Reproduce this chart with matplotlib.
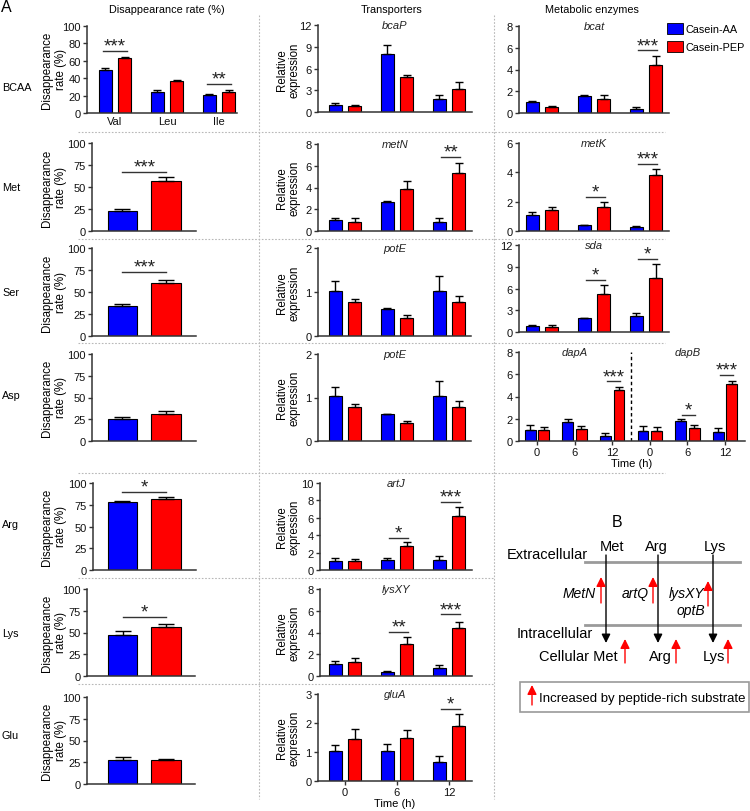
import numpy as np
import matplotlib
matplotlib.use("Agg")
import matplotlib.pyplot as plt
from matplotlib.patches import Rectangle

plt.rcParams['font.family'] = ['Liberation Sans', 'DejaVu Sans']

# ---------------- data ----------------
series_names = ["Casein-AA", "Casein-PEP"]
time_labels = ["0", "6", "12"]

# Disappearance rate (%) - BCAA
bcaa_names = ["Val", "Leu", "Ile"]
bcaa_aa = [49.6, 24.0, 20.8]
bcaa_aa_err = [2.0, 2.3, 1.5]
bcaa_pep = [63.0, 37.0, 24.4]
bcaa_pep_err = [1.0, 0.8, 1.6]
bcaa_sig = [("***", 0, 71), ("**", 2, 33)]

# Disappearance rate (%) - single amino acids
single_names = ["Met", "Ser", "Asp", "Arg", "Lys", "Glu"]
single_aa = [23.0, 34.4, 25.6, 77.8, 47.1, 28.0]
single_aa_err = [2.0, 1.6, 2.4, 1.9, 4.9, 3.6]
single_pep = [57.0, 60.5, 30.5, 81.6, 56.7, 27.5]
single_pep_err = [4.0, 3.5, 3.9, 1.9, 3.1, 1.5]
single_sig = ["***", "***", "", "*", "*", ""]
single_sig_y = [67, 73, 0, 90, 67.5, 0]

# Relative expression (0, 6, 12 h)
bcaP_aa = [0.97, 7.95, 1.75]; bcaP_aa_err = [0.27, 1.35, 0.55]
bcaP_pep = [0.83, 4.87, 3.20]; bcaP_pep_err = [0.17, 0.28, 0.98]
bcaP_sig = []

metN_aa = [1.00, 2.63, 0.86]; metN_aa_err = [0.20, 0.12, 0.30]
metN_pep = [0.86, 3.88, 5.35]; metN_pep_err = [0.30, 0.71, 0.92]
metN_sig = [("**", 2, 6.79)]

potE_aa = [1.03, 0.61, 1.03]; potE_aa_err = [0.21, 0.02, 0.34]
potE_pep = [0.78, 0.41, 0.78]; potE_pep_err = [0.06, 0.06, 0.14]
potE_sig = []

artJ_aa = [1.00, 1.19, 1.19]; artJ_aa_err = [0.38, 0.23, 0.38]
artJ_pep = [1.07, 2.72, 6.17]; artJ_pep_err = [0.19, 0.50, 1.03]
artJ_sig = [("*", 1, 3.64), ("***", 2, 7.78)]

lysXY_aa = [1.08, 0.40, 0.71]; lysXY_aa_err = [0.30, 0.09, 0.27]
lysXY_pep = [1.32, 2.92, 4.40]; lysXY_pep_err = [0.37, 0.71, 0.58]
lysXY_sig = [("**", 1, 4.06), ("***", 2, 5.66)]

gluA_aa = [1.04, 1.04, 0.67]; gluA_aa_err = [0.19, 0.23, 0.20]
gluA_pep = [1.44, 1.50, 1.88]; gluA_pep_err = [0.35, 0.25, 0.43]
gluA_sig = [("*", 2, 2.50)]

bcat_aa = [0.98, 1.60, 0.40]; bcat_aa_err = [0.16, 0.09, 0.15]
bcat_pep = [0.55, 1.29, 4.43]; bcat_pep_err = [0.10, 0.34, 0.77]
bcat_sig = [("***", 2, 5.75)]

metK_aa = [1.11, 0.39, 0.28]; metK_aa_err = [0.16, 0.05, 0.07]
metK_pep = [1.43, 1.62, 3.85]; metK_pep_err = [0.19, 0.38, 0.35]
metK_sig = [("*", 1, 2.35), ("***", 2, 4.55)]

sda_aa = [0.78, 1.92, 2.15]; sda_aa_err = [0.14, 0.08, 0.51]
sda_pep = [0.69, 5.22, 7.42]; sda_pep_err = [0.23, 1.28, 1.93]
sda_sig = [("*", 1, 7.24), ("*", 2, 10.1)]

dapA_aa = [1.00, 1.75, 0.45]; dapA_aa_err = [0.45, 0.21, 0.25]
dapA_pep = [1.00, 1.12, 4.60]; dapA_pep_err = [0.30, 0.27, 0.23]
dapA_sig = [("***", 2, 5.35)]

dapB_aa = [0.94, 1.81, 0.82]; dapB_aa_err = [0.39, 0.15, 0.36]
dapB_pep = [0.94, 1.18, 5.14]; dapB_pep_err = [0.33, 0.30, 0.24]
dapB_sig = [("*", 1, 2.33), ("***", 2, 5.90)]

# ---------------- style ----------------
BLUE = '#0000FF'
RED = '#FF0000'
SPINE = '#333333'
W, H = 750, 812
fig = plt.figure(figsize=(W / 100, H / 100), dpi=100)


def px_axes(x0, y0, x1, y1):
    return fig.add_axes([x0 / W, 1 - y1 / H, (x1 - x0) / W, (y1 - y0) / H])


def style(ax, ymax, ystep):
    for s in ['top', 'right']:
        ax.spines[s].set_visible(False)
    for s in ['left', 'bottom']:
        ax.spines[s].set_color(SPINE)
        ax.spines[s].set_linewidth(1.1)
    ax.set_ylim(0, ymax)
    ax.set_yticks(np.arange(0, ymax + 1e-9, ystep))
    ax.yaxis.set_major_formatter(matplotlib.ticker.FormatStrFormatter('%g'))
    ax.tick_params(axis='y', length=3, width=1, color=SPINE, labelsize=8, pad=1.5,
                   labelcolor='#111111')
    ax.tick_params(axis='x', length=0, labelsize=8, pad=2, labelcolor='#111111')
    ax.set_xticks([])
    ax.set_facecolor('none')


def draw_bars(ax, x, vals, errs, color, width, cap):
    ax.bar(x, vals, width, color=color, edgecolor='black', linewidth=0.8,
           yerr=[np.zeros(len(vals)), errs], capsize=cap,
           error_kw=dict(elinewidth=1.0, capthick=1.0, ecolor='black'), zorder=2)


def sig(ax, label, x0, x1, y):
    ax.plot([x0, x1], [y, y], color=SPINE, lw=1.0, zorder=3, clip_on=False)
    ax.annotate(label, ((x0 + x1) / 2, y), xytext=(0, 0.3), textcoords='offset points',
                ha='center', va='baseline', fontsize=13.5, color='#222222')


def xlim_from(x0, x1, c0, s):
    return ((x0 - c0) / s, (x1 - c0) / s)


# ---------------- left column ----------------
ax = px_axes(87, 27, 237, 114)
style(ax, 100, 20)
g = np.arange(len(bcaa_names))
off = 0.183
draw_bars(ax, g - off, bcaa_aa, bcaa_aa_err, BLUE, 0.25, 3)
draw_bars(ax, g + off, bcaa_pep, bcaa_pep_err, RED, 0.25, 3)
for lab, gi, yy in bcaa_sig:
    sig(ax, lab, gi - off - 0.05, gi + off + 0.05, yy)
ax.set_xlim(*xlim_from(87, 237, 115, 52))
ax.set_xticks(g)
ax.set_xticklabels(bcaa_names)

single_boxes = [(92, 144, 196, 232), (92, 249, 196, 337), (92, 355, 196, 442),
                (93, 484, 196, 571), (87, 590, 195, 677), (87, 698, 195, 785)]
left_axes = [ax]
for i, box in enumerate(single_boxes):
    a = px_axes(*box)
    style(a, 100, 25)
    draw_bars(a, [0], [single_aa[i]], [single_aa_err[i]], BLUE, 0.667, 5.5)
    draw_bars(a, [1], [single_pep[i]], [single_pep_err[i]], RED, 0.667, 5.5)
    if single_sig[i]:
        sig(a, single_sig[i], 0, 1, single_sig_y[i])
    a.set_xlim(*xlim_from(box[0], box[2], 122.5, 43.5))
    left_axes.append(a)


# ---------------- expression panels ----------------
def expr(box, c0, s, aa, aa_err, pep, pep_err, sigs, ymax, ystep, title=None, width=0.25, off=0.19, cap=3):
    a = px_axes(*box)
    style(a, ymax, ystep)
    n = len(aa)
    g = np.arange(n)
    draw_bars(a, g - off, aa, aa_err, BLUE, width, cap)
    draw_bars(a, g + off, pep, pep_err, RED, width, cap)
    for lab, gi, yy in sigs:
        sig(a, lab, gi - off + 0.04, gi + off + 0.03, yy)
    a.set_xlim(*xlim_from(box[0], box[2], c0, s))
    if title:
        a.text(0.5, 1.0, title, transform=a.transAxes, ha='center', va='center',
               fontsize=8, style='italic', color='#222222')
    return a


mid = [
    ((318, 26, 472, 113), bcaP_aa, bcaP_aa_err, bcaP_pep, bcaP_pep_err, bcaP_sig, 12, 3, 'bcaP'),
    ((318, 145, 472, 232), metN_aa, metN_aa_err, metN_pep, metN_pep_err, metN_sig, 8, 2, 'metN'),
    ((318, 249, 471, 337), potE_aa, potE_aa_err, potE_pep, potE_pep_err, potE_sig, 2, 1, 'potE'),
    ((318, 355, 471, 442), potE_aa, potE_aa_err, potE_pep, potE_pep_err, potE_sig, 2, 1, 'potE'),
    ((320, 484, 472, 571), artJ_aa, artJ_aa_err, artJ_pep, artJ_pep_err, artJ_sig, 10, 2, 'artJ'),
    ((320, 590, 472, 677), lysXY_aa, lysXY_aa_err, lysXY_pep, lysXY_pep_err, lysXY_sig, 8, 2, 'lysXY'),
    ((318, 695, 472, 782), gluA_aa, gluA_aa_err, gluA_pep, gluA_pep_err, gluA_sig, 3, 1, 'gluA'),
]
mid_axes = []
for box, a1, e1, a2, e2, sg, ym, st, t in mid:
    mid_axes.append(expr(box, 345, 52, a1, e1, a2, e2, sg, ym, st, t))
gl = mid_axes[-1]
gl.set_xticks(range(3))
gl.set_xticklabels(time_labels)
gl.tick_params(axis='x', length=3, width=1, color=SPINE, labelsize=8, pad=1.5)
gl.set_xlabel('Time (h)', fontsize=8, labelpad=0.5)

right = [
    ((519, 27, 669, 114), bcat_aa, bcat_aa_err, bcat_pep, bcat_pep_err, bcat_sig, 8, 2, 'bcat'),
    ((519, 144, 669, 232), metK_aa, metK_aa_err, metK_pep, metK_pep_err, metK_sig, 6, 2, 'metK'),
    ((519, 246, 669, 333), sda_aa, sda_aa_err, sda_pep, sda_pep_err, sda_sig, 12, 3, 'sda'),
]
for box, a1, e1, a2, e2, sg, ym, st, t in right:
    expr(box, 542, 52, a1, e1, a2, e2, sg, ym, st, t)

# dapA / dapB combined panel
dap_aa = dapA_aa + dapB_aa
dap_aa_err = dapA_aa_err + dapB_aa_err
dap_pep = dapA_pep + dapB_pep
dap_pep_err = dapA_pep_err + dapB_pep_err
dap_sig = dapA_sig + [(l, gi + 3, y) for l, gi, y in dapB_sig]
da = expr((519, 353, 745, 442), 537, 37.6, dap_aa, dap_aa_err, dap_pep, dap_pep_err, dap_sig,
          8, 2, None, width=0.29, off=0.18, cap=2.8)
da.axvline(2.5, ymin=0, ymax=1, color='black', lw=1.0, ls=(0, (2.5, 2)))
da.text(1, 8, 'dapA', ha='center', va='center', fontsize=8, style='italic', color='#222222')
da.text(4, 8, 'dapB', ha='center', va='center', fontsize=8, style='italic', color='#222222')
da.set_xticks(range(6))
da.set_xticklabels(time_labels + time_labels)
da.tick_params(axis='x', length=3, width=1, color=SPINE, labelsize=8, pad=1.5)
da.set_xlabel('Time (h)', fontsize=8, labelpad=0.5)

# ---------------- overlay (pixel coords) ----------------
ov = fig.add_axes([0, 0, 1, 1], zorder=10)
ov.set_xlim(0, W)
ov.set_ylim(H, 0)
ov.axis('off')
ov.patch.set_alpha(0)

SEP = '#b8b8b8'
for yy in [133, 240, 344, 474]:
    ov.plot([78, 665], [yy, yy], color=SEP, lw=0.8, ls=(0, (1.5, 1.5)))
for yy in [579, 685]:
    ov.plot([78, 494], [yy, yy], color=SEP, lw=0.8, ls=(0, (1.5, 1.5)))
for xx in [259, 494]:
    ov.plot([xx, xx], [16, 800], color=SEP, lw=0.8, ls=(0, (1.5, 1.5)))

ov.text(1, 8, 'A', fontsize=11.5, ha='left', va='center')
ov.text(167, 10, 'Disappearance rate (%)', fontsize=7.8, ha='center', va='center')
ov.text(392, 10, 'Transporters', fontsize=7.8, ha='center', va='center')
ov.text(592, 10, 'Metabolic enzymes', fontsize=7.8, ha='center', va='center')

row_y = [88, 188, 293, 396, 525, 634, 736]
for lab, yy in zip(["BCAA"] + single_names, row_y):
    ov.text(2, yy, lab, fontsize=7.8, ha='left', va='center')

for ax_, yc in zip(left_axes, [70, 188, 293, 398, 527, 633, 741]):
    ov.text(54, yc, 'Disappearance\nrate (%)', rotation=90, fontsize=8.3, ha='center', va='center',
            linespacing=1.25)
for yc in [70, 188, 293, 398, 527, 633, 738]:
    ov.text(288, yc, 'Relative\nexpression', rotation=90, fontsize=8.3, ha='center', va='center',
            linespacing=1.05)

# legend
for (yy, col, name) in [(24, BLUE, series_names[0]), (42, RED, series_names[1])]:
    ov.add_patch(Rectangle((667, yy), 16, 11, facecolor=col, edgecolor='black', lw=0.6))
    ov.text(685, yy + 6, name, fontsize=7.8, ha='left', va='center')

# ---------------- panel B ----------------
ov.text(617, 523, 'B', fontsize=11.5, ha='center', va='center')
ov.text(547, 555, 'Extracellular', fontsize=10.5, ha='center', va='center')
ov.text(555, 634, 'Intracellular', fontsize=10.5, ha='center', va='center')
for yy in [563, 626]:
    ov.plot([585, 740], [yy, yy], color='#9a9a9a', lw=2)
for name, xx, xa in [("Met", 612, 606), ("Arg", 656, 658), ("Lys", 715, 713)]:
    ov.text(xx, 547, name, fontsize=10.5, ha='center', va='center')
    ov.annotate('', xy=(xa, 644), xytext=(xa, 556),
                arrowprops=dict(arrowstyle='-|>', color='black', lw=1.0, mutation_scale=13,
                                shrinkA=0, shrinkB=0))


def red_up(x, y0, y1):
    ov.annotate('', xy=(x, y1), xytext=(x, y0),
                arrowprops=dict(arrowstyle='-|>', color='red', lw=1.0, mutation_scale=14,
                                shrinkA=0, shrinkB=0))


ov.text(579.5, 594, 'MetN', fontsize=10, style='italic', ha='center', va='center')
red_up(601, 604, 578)
ov.text(635, 594, 'artQ', fontsize=10, style='italic', ha='center', va='center')
red_up(653, 604, 578)
ov.text(686.5, 594, 'lysXY', fontsize=10, style='italic', ha='center', va='center')
ov.text(691, 611, 'optB', fontsize=10, style='italic', ha='center', va='center')
red_up(708, 607, 582)

ov.text(578.5, 657, 'Cellular Met', fontsize=10.5, ha='center', va='center')
red_up(625, 664, 640)
ov.text(660, 657, 'Arg', fontsize=10.5, ha='center', va='center')
red_up(676, 664, 640)
ov.text(713.5, 657, 'Lys', fontsize=10.5, ha='center', va='center')
red_up(728, 664, 640)

ov.add_patch(Rectangle((520, 683), 229, 30, facecolor='none', edgecolor='#9a9a9a', lw=1.2))
red_up(532, 706, 686)
ov.text(539, 699, 'Increased by peptide-rich substrate', fontsize=9.5, ha='left', va='center')

fig.savefig('out.png', dpi=100)
